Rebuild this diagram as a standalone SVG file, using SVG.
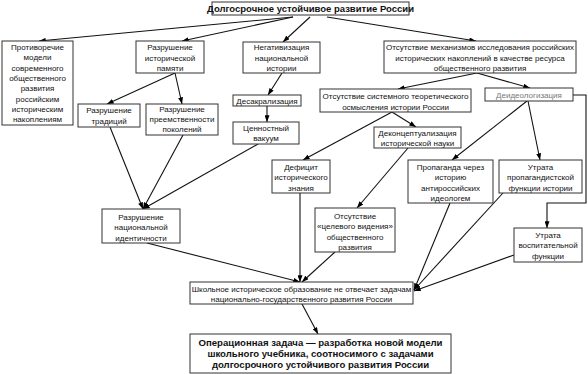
<svg xmlns="http://www.w3.org/2000/svg" width="588" height="374" viewBox="0 0 588 374">
<defs>
<marker id="ah" viewBox="0 0 8 6" refX="8" refY="3" markerWidth="7" markerHeight="5" orient="auto" markerUnits="userSpaceOnUse">
<path d="M0,0 L8,3 L0,6 z" fill="#000"/>
</marker>
<style>
rect{fill:#fff;stroke:#333;stroke-width:1}
text{font-family:"Liberation Sans",Arial,sans-serif;font-size:8px;fill:#111;text-anchor:middle}
.b{font-weight:bold;font-size:9.5px}
.f{font-weight:bold;font-size:9.6px}
.g{fill:#777}
#edges line,#edges polyline{stroke:#111;stroke-width:1.1;fill:none;marker-end:url(#ah)}
</style>
</defs>
<rect x="0" y="0" width="588" height="374" style="fill:#fff;stroke:none"/>
<g id="edges">
<line x1="293" y1="17" x2="39" y2="41"/>
<line x1="293" y1="17" x2="182" y2="41"/>
<line x1="310" y1="17" x2="283" y2="42"/>
<line x1="327" y1="17" x2="476" y2="41"/>
<line x1="282" y1="73" x2="268" y2="95"/>
<line x1="267" y1="106" x2="267" y2="122"/>
<line x1="175" y1="73" x2="107" y2="104"/>
<line x1="175" y1="73" x2="182" y2="104"/>
<line x1="110" y1="127" x2="143" y2="209"/>
<line x1="183" y1="135" x2="143" y2="209"/>
<line x1="258" y1="144" x2="143" y2="209"/>
<line x1="477" y1="73" x2="398" y2="89"/>
<line x1="477" y1="73" x2="530" y2="88"/>
<line x1="392" y1="112" x2="416" y2="127"/>
<line x1="392" y1="112" x2="303" y2="160"/>
<line x1="408" y1="148" x2="357" y2="208"/>
<line x1="527" y1="101" x2="452" y2="160"/>
<line x1="528" y1="101" x2="540" y2="160"/>
<polyline points="573,95 586,95 586,203 547,203 547,228"/>
<line x1="147" y1="243" x2="300" y2="282"/>
<line x1="300" y1="193" x2="300" y2="282"/>
<line x1="335" y1="252" x2="302" y2="282"/>
<line x1="450" y1="203" x2="414" y2="290"/>
<line x1="503" y1="193" x2="414" y2="290"/>
<line x1="514" y1="255" x2="414" y2="291"/>
<line x1="302" y1="304" x2="318" y2="334"/>
</g>
<g id="n-top"><rect x="212" y="2" width="197" height="13"/><text class="b" x="310.5" y="12">Долгосрочное устойчивое развитие России</text></g>
<g id="n-protiv"><rect x="2" y="41" width="71" height="84"/>
<text x="37.5" y="50">Противоречие</text><text x="37.5" y="60.3">модели</text><text x="37.5" y="70.6">современного</text><text x="37.5" y="80.9">общественного</text><text x="37.5" y="91.2">развития</text><text x="37.5" y="101.5">российским</text><text x="37.5" y="111.8">историческим</text><text x="37.5" y="122">накоплениям</text></g>
<g id="n-pamyat"><rect x="136" y="41" width="68" height="32"/>
<text x="170" y="50">Разрушение</text><text x="170" y="60.5">исторической</text><text x="170" y="71">памяти</text></g>
<g id="n-negat"><rect x="243" y="42" width="77" height="31"/>
<text x="281.5" y="50">Негативизация</text><text x="281.5" y="60.5">национальной</text><text x="281.5" y="71">истории</text></g>
<g id="n-mech"><rect x="384" y="41" width="192" height="32"/>
<text x="480" y="50">Отсутствие механизмов исследования российских</text><text x="480" y="60.5">исторических накоплений в качестве ресурса</text><text x="480" y="71">общественного развития</text></g>
<g id="n-trad"><rect x="78" y="104" width="62" height="23"/>
<text x="109" y="113">Разрушение</text><text x="109" y="123.5">традиций</text></g>
<g id="n-preem"><rect x="146" y="104" width="72" height="31"/>
<text x="182" y="111.5">Разрушение</text><text x="182" y="121.5">преемственности</text><text x="182" y="131.5">поколений</text></g>
<g id="n-desak"><rect x="233" y="95" width="68" height="11"/>
<text x="267" y="103.8">Десакрализация</text></g>
<g id="n-vakuum"><rect x="233" y="122" width="66" height="22"/>
<text x="266" y="130.5">Ценностный</text><text x="266" y="141">вакуум</text></g>
<g id="n-sistem"><rect x="320" y="89" width="151" height="23"/>
<text x="395.5" y="99">Отсутствие системного  теоретического</text><text x="395.5" y="109.5">осмысления истории России</text></g>
<g id="n-deideo"><rect x="485" y="88" width="88" height="13"/>
<text class="g" x="529" y="97.8">Деидеологизация</text></g>
<g id="n-dekon"><rect x="374" y="127" width="87" height="21"/>
<text x="417.5" y="135.8">Деконцептуализация</text><text x="417.5" y="146">исторической науки</text></g>
<g id="n-defic"><rect x="272" y="160" width="58" height="33"/>
<text x="301" y="169.5">Дефицит</text><text x="301" y="180">исторического</text><text x="301" y="190.5">знания</text></g>
<g id="n-propag"><rect x="408" y="160" width="85" height="43"/>
<text x="450.5" y="169.8">Пропаганда через</text><text x="450.5" y="180.2">историю</text><text x="450.5" y="190.6">антироссийских</text><text x="450.5" y="201">идеологем</text></g>
<g id="n-utr1"><rect x="499" y="160" width="83" height="33"/>
<text x="540.5" y="169.8">Утрата</text><text x="540.5" y="180.3">пропагандистской</text><text x="540.5" y="190.8">функции истории</text></g>
<g id="n-utr2"><rect x="514" y="228" width="68" height="34"/>
<text x="548" y="238">Утрата</text><text x="548" y="248.3">воспитательной</text><text x="548" y="258.6">функции</text></g>
<g id="n-celev"><rect x="315" y="208" width="80" height="44"/>
<text x="355" y="219">Отсутствие</text><text x="355" y="229.3">«целевого видения»</text><text x="355" y="239.6">общественного</text><text x="355" y="250">развития</text></g>
<g id="n-ident"><rect x="102" y="209" width="78" height="34"/>
<text x="141" y="220">Разрушение</text><text x="141" y="230.3">национальной</text><text x="141" y="240.6">идентичности</text></g>
<g id="n-shkol"><rect x="190" y="282" width="223" height="22"/>
<text x="301.5" y="291.5">Школьное историческое образование не отвечает задачам</text><text x="301.5" y="302">национально-государственного развития России</text></g>
<g id="n-final"><rect x="190" y="334" width="261" height="39"/>
<text class="f" x="320.5" y="346">Операционная задача — разработка новой модели</text><text class="f" x="320.5" y="357">школьного учебника, соотносимого с задачами</text><text class="f" x="320.5" y="368">долгосрочного устойчивого развития России</text></g>
</svg>
